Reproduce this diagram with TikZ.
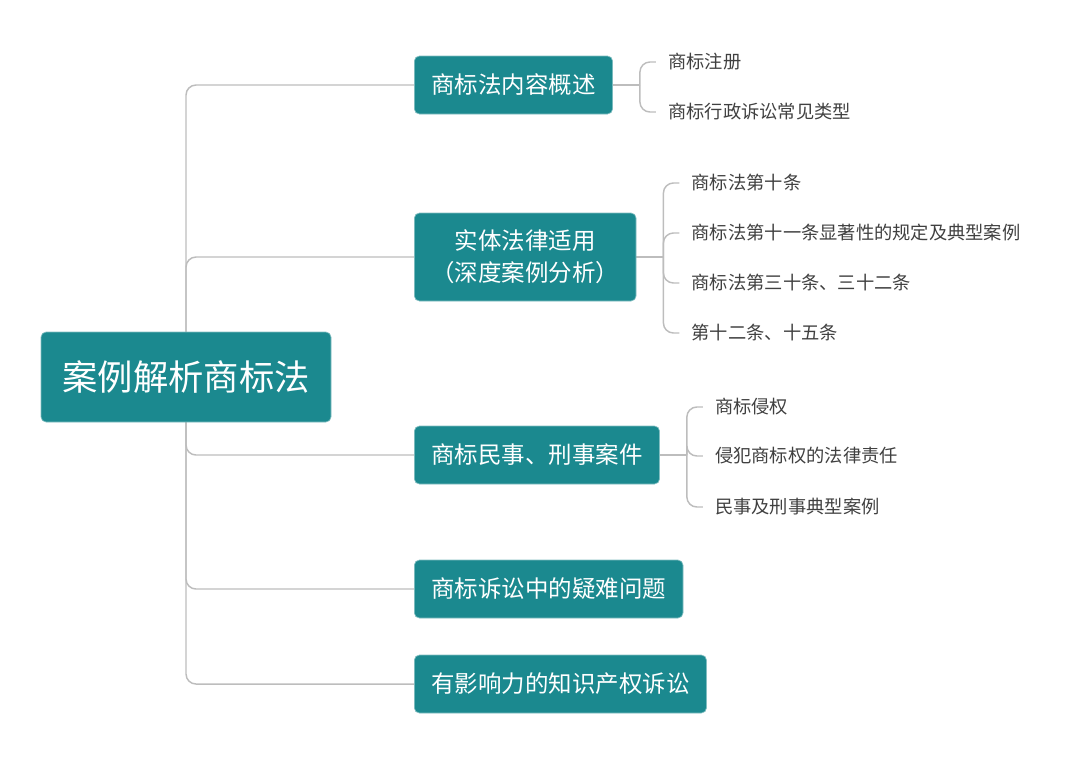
\documentclass[tikz,border=0pt]{standalone}
\usepackage{fontspec}
\newfontfamily\cjk{Noto Sans CJK SC}
\usepackage{tikz}
\usetikzlibrary{calc,backgrounds}

\definecolor{boxteal}{HTML}{1B898F}
\definecolor{linkgray}{HTML}{BDBDBD}
\definecolor{leafgray}{HTML}{404040}

\tikzset{
  topic/.style={fill=boxteal, draw=boxteal!55!white, line width=0.5pt,
    rounded corners=3.8pt, text=white, align=center,
    font=\cjk\fontsize{17.6}{24}\selectfont,
    inner xsep=12.75pt, inner ysep=0pt, minimum height=43.5pt, anchor=west},
  leaf/.style={text=leafgray, font=\cjk\fontsize{13.7}{16}\selectfont,
    inner xsep=9pt, inner ysep=0pt, anchor=west},
  link/.style={draw=linkgray, line width=1.1pt, rounded corners=7.5pt}
}

\begin{document}
\begin{tikzpicture}[x=0.75pt,y=-0.75pt]
\pgfmathsetmacro{\K}{27} % box to bracket
\pgfmathsetmacro{\T}{16} % bracket tick

\useasboundingbox (0,0) rectangle (1080,758);

% root node
\node[fill=boxteal, draw=boxteal!55!white, line width=0.5pt, rounded corners=3.8pt,
  text=white, font=\cjk\fontsize{26.5}{30}\selectfont,
  minimum width=217.5pt, minimum height=67.5pt] (r) at (186,377) {案例解析商标法};

% main topics
\node[topic] (b1) at (414,85) {商标法内容概述};
\node[topic, minimum height=66pt] (b2) at (414,257) {实体法律适用\\（深度案例分析）};
\node[topic] (b3) at (414,455) {商标民事、刑事案件};
\node[topic] (b4) at (414,589) {商标诉讼中的疑难问题};
\node[topic] (b5) at (414,684) {有影响力的知识产权诉讼};

% brackets behind the topics
\coordinate (k1) at ($(b1.east)+(\K,0)$);
\coordinate (k2) at ($(b2.east)+(\K,0)$);
\coordinate (k3) at ($(b3.east)+(\K,0)$);

% leaves of each topic
\foreach \t/\y [count=\i] in {商标注册/-23, 商标行政诉讼常见类型/27}
  \node[leaf] (a\i) at ($(k1)+(\T,\y)$) {\t};
\foreach \t/\y [count=\i] in {商标法第十条/-74, 商标法第十一条显著性的规定及典型案例/-24,
  商标法第三十条、三十二条/26, 第十二条、十五条/76}
  \node[leaf] (c\i) at ($(k2)+(\T,\y)$) {\t};
\foreach \t/\y [count=\i] in {商标侵权/-48, 侵犯商标权的法律责任/1, 民事及刑事典型案例/52}
  \node[leaf] (d\i) at ($(k3)+(\T,\y)$) {\t};

\begin{scope}[on background layer]
% trunk to each topic
\foreach \b in {b1,b2,b3,b4,b5}
  \draw[link] (r.center) |- (\b.west);

% topic to its leaves
\draw[link] (b1.east) -- (k1);
\draw[link] (b2.east) -- (k2);
\draw[link] (b3.east) -- (k3);
\foreach \i in {1,2} \draw[link] (k1) |- (a\i.west);
\foreach \i in {1,...,4} \draw[link] (k2) |- (c\i.west);
\foreach \i in {1,2,3} \draw[link] (k3) |- (d\i.west);
\end{scope}

\end{tikzpicture}
\end{document}
